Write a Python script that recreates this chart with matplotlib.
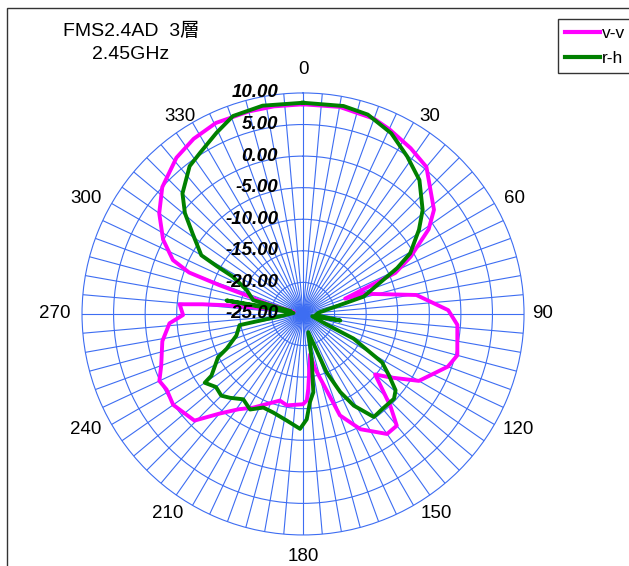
import numpy as np
import matplotlib
matplotlib.use('Agg')
from matplotlib import pyplot as plt
from matplotlib.transforms import offset_copy
from matplotlib.lines import Line2D
from matplotlib.patches import Rectangle

plt.rcParams['font.family'] = ['Liberation Sans', 'Noto Sans CJK JP', 'DejaVu Sans']

# v-v (magenta) : angle in degrees, level in dB
vv_angles = [0, 10, 20, 25, 33, 40, 51.5, 56, 62, 66, 70, 71.5, 80.5, 88.5, 94,
             105, 110, 120, 126, 130, 136.5, 140, 145, 153.5, 160, 167.5, 170,
             176, 177.5, 180, 190, 195, 208, 214, 220, 225.5, 235, 241, 245, 250,
             259, 266, 269.5, 274.5, 275.5, 276.5, 279, 282, 286, 288, 289, 290,
             292.5, 298, 305, 312, 321, 328, 335.5, 345, 352]
vv_db = [8.2, 8.3, 7.9, 7.3, 6.3, 5.4, 1.5, -1.0, -5.7, -9.0, -17.9, -14.9, -6.8,
         -2.0, -0.5, 0.3, -0.6, -3.8, -7.9, -10.1, -4.9, -1.9, -1.8, -4.6, -7.9,
         -16.1, -18.5, -13.1, -11.3, -10.7, -10.3, -10.8, -8.2, -6.8, -4.4, -0.9,
         0.1, -0.3, 0.1, -1.1, -2.3, -3.8, -6.0, -5.4, -9.0, -12.8, -20.0, -23.5,
         -19.0, -16.0, -11.0, -5.8, -2.7, 0.1, 2.8, 5.0, 6.85, 7.7, 8.25, 8.2, 8.2]

# r-h (green)
rh_angles = [0, 11, 18, 26, 33.5, 41, 49, 54, 60.5, 64, 74, 85, 95, 100, 104, 114,
             116, 121.5, 125.5, 129.5, 133, 140, 145.5, 151, 154.5, 158, 164, 169,
             172.5, 175.5, 178, 181.5, 188.5, 197, 203, 209, 215, 221, 225, 230,
             235, 236, 243, 245.5, 252, 260, 266, 276, 280, 283, 285.5, 293, 298,
             299, 300, 306, 310.5, 315, 322.5, 327.5, 334.5, 340.5, 349]
rh_db = [8.45, 8.55, 8.2, 6.85, 4.9, 3.1, 0.1, -2.3, -5.5, -8.4, -15.0, -22.5,
         -23.0, -19.0, -23.5, -21.0, -16.1, -10.3, -8.3, -6.0, -5.3, -5.4, -5.2,
         -8.4, -11.3, -15.0, -22.0, -17.8, -12.5, -11.0, -8.3, -6.8, -7.9, -8.7,
         -8.9, -7.7, -8.5, -7.4, -6.7, -7.0, -6.0, -7.5, -9.9, -11.7, -13.9,
         -14.8, -22.0, -23.5, -12.7, -23.0, -16.8, -15.3, -12.4, -9.4, -6.4,
         -3.4, -0.4, 2.0, 4.5, 5.3, 6.8, 8.25, 8.6]

r_ticks = [10, 5, 0, -5, -10, -15, -20, -25]
theta_ticks = [0, 30, 60, 90, 120, 150, 180, 210, 240, 270, 300, 330]

# where excel puts the angle labels, pixels from the centre (x right, y up)
label_offsets = [(0, 244), (127, 197), (211, 115), (240, 0), (215, -116), (133, -200),
                 (0, -243), (-135, -200), (-217, -116), (-248, 0), (-217, 115), (-123, 197)]

grid_col = '#3d6df2'

fig = plt.figure(figsize=(6.29, 5.66), dpi=100)
ax = fig.add_axes([0.1304, 0.0548, 0.7027, 0.781], projection='polar')
ax.set_theta_zero_location('N')
ax.set_theta_direction(-1)
ax.set_rlim(-25, 10)

ax.set_thetagrids(np.arange(0, 360, 5), [])
ax.set_rgrids([-20, -15, -10, -5, 0, 5], labels=[])
ax.grid(True, color=grid_col, linewidth=0.8)
ax.spines['polar'].set_color(grid_col)
ax.spines['polar'].set_linewidth(0.8)

def closed(ang, val):
    t = np.deg2rad(np.r_[ang, ang[0]])
    return t, np.r_[val, val[0]]

t, v = closed(vv_angles, vv_db)
ax.plot(t, v, color='#ff00ff', lw=2.8, label='v-v', zorder=3)
t, v = closed(rh_angles, rh_db)
ax.plot(t, v, color='#008000', lw=2.8, label='r-h', zorder=4)

tr = offset_copy(ax.transData, fig=fig, x=-25, y=0, units='dots')
for r in r_ticks:
    ax.text(0, r, '%.2f' % r, transform=tr, ha='right', va='center',
            fontsize=13.5, fontweight='bold', fontstyle='italic', zorder=5)

for a, (dx, dy) in zip(theta_ticks, label_offsets):
    t_lab = offset_copy(ax.transData, fig=fig, x=dx, y=dy, units='dots')
    ax.text(0, -25, str(a), transform=t_lab, ha='center', va='center',
            fontsize=13.5, clip_on=False)

fig.text(0.209, 0.944, 'FMS2.4AD  3層', ha='center', va='center', fontsize=14)
fig.text(0.207, 0.903, '2.45GHz', ha='center', va='center', fontsize=14)

fig.add_artist(Rectangle((7 / 629, -0.1), 1.2, 1.1 - 8 / 566,
                         transform=fig.transFigure, fill=False,
                         edgecolor='#333333', lw=1))

handles = [Line2D([], [], color='#ff00ff', lw=3),
           Line2D([], [], color='#008000', lw=3)]
fig.legend(handles, ['v-v', 'r-h'], loc='upper left',
           bbox_to_anchor=(558 / 629, 1 - 19 / 566), frameon=True,
           fancybox=False, edgecolor='black', fontsize=12.5, handlelength=2.0,
           handletextpad=0.15, labelspacing=0.55, borderpad=0.4, borderaxespad=0)

fig.savefig('out.png', dpi=100)
